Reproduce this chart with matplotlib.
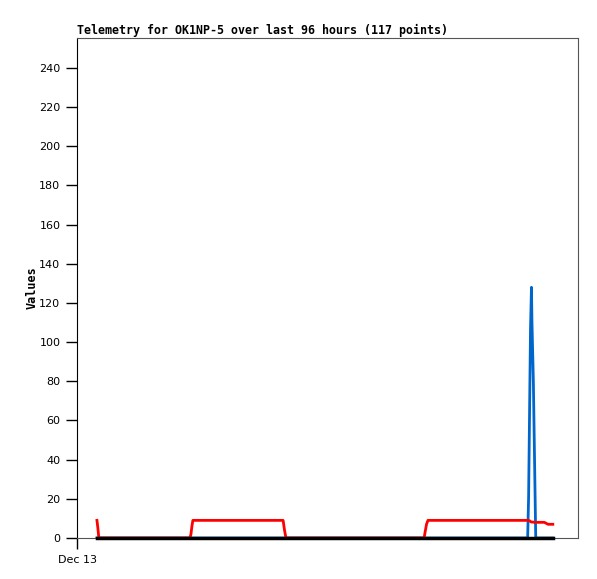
import numpy as np
import matplotlib
matplotlib.use("Agg")
import matplotlib.pyplot as plt

# -------------------------
# Data (hours since Dec 13 00:00)
# -------------------------
red_t = [4.2, 4.4, 4.6, 23.8, 24.0, 24.2, 24.4, 43.4, 43.7, 44.0, 73.1, 73.3, 73.6, 73.9,
         94.9, 95.3, 95.6, 96.5, 98.4, 98.8, 99.2, 100.2]
red_v = [9, 5, 0, 0, 2, 6, 9, 9, 4, 0, 0, 3, 7, 9,
         9, 8.8, 8.2, 8, 8, 7.5, 7, 7]

blue_t = [4.2, 94.9, 95.1, 95.3, 95.5, 95.7, 95.8, 96.1, 96.3, 96.5, 96.6, 100.2]
blue_v = [0, 0, 21, 64, 107, 128, 111, 80, 48, 16, 0, 0]

black_t = [4.2, 100.2]
black_v = [0, 0]

yticks = np.arange(0, 241, 20)

# -------------------------
# Plot
# -------------------------
fig = plt.figure(figsize=(5.97, 5.79), dpi=100)
ax = fig.add_axes([77 / 597, 1 - 538 / 579, 501 / 597, 500 / 579])

ax.plot(blue_t, blue_v, color="#0066cc", lw=2)
ax.plot(red_t, red_v, color="#ff0000", lw=2)
ax.plot(black_t, black_v, color="black", lw=2.5, clip_on=False, zorder=5)

ax.set_xlim(0, 105.5)
ax.set_ylim(0, 255.3)

ax.set_yticks(yticks)
ax.set_xticks([0])
ax.set_xticklabels(["Dec 13"])
ax.tick_params(axis="both", direction="out", length=8, width=1, labelsize=8, pad=4)

for side in ["top", "right", "bottom"]:
    ax.spines[side].set_color("#555555")
ax.spines["left"].set_color("black")

ax.set_ylabel("Values", fontsize=8.5, fontweight="bold", family="DejaVu Sans Mono",
              va="center")
ax.yaxis.set_label_coords(-(77 - 32) / 501, 0.5)
ax.set_title("Telemetry for OK1NP-5 over last 96 hours (117 points)", loc="left",
             fontsize=8.4, fontweight="bold", family="DejaVu Sans Mono", pad=3)

fig.savefig("out.png", dpi=100)
